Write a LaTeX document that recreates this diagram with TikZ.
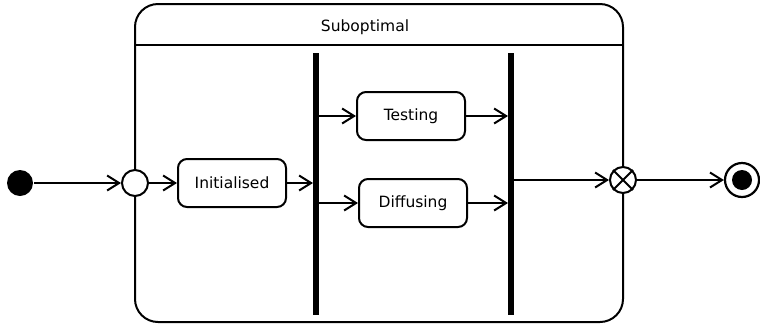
\documentclass[tikz,border=0pt]{standalone}
\usepackage{fontspec}
\setmainfont{DejaVu Sans}
\usetikzlibrary{arrows.meta}
\begin{document}
\begin{tikzpicture}[x=1pt,y=-1pt,
  line width=2pt,
  font=\fontsize{15.5}{18}\selectfont,
  state/.style={draw, rounded corners=9pt, minimum width=108pt, minimum height=48pt, inner sep=0pt},
  bar/.style={fill=black, minimum width=6pt, minimum height=262pt, inner sep=0pt, outer sep=0pt},
  flow/.style={-{Straight Barb[length=12pt,width=15pt]}},
  pseudo/.style={circle, draw, fill=white, minimum size=26pt, inner sep=0pt},
]
\useasboundingbox (0,0) rectangle (760,325);
% composite state with its header
\draw[rounded corners=23pt] (135,4) rectangle (623,322);
\draw (135,45) -- (623,45);
\node (title) at (365,27) {Suboptimal};
% states and pseudostates
\node[circle, fill=black, minimum size=26pt, inner sep=0pt] (start) at (20,183) {};
\node[pseudo] (entry) at (135,183) {};
\node[state] (init) at (232,183) {Initialised};
\node[bar] (fork) at (316,184) {};
\node[state] (test) at (411,116) {Testing};
\node[state] (diff) at (413,203) {Diffusing};
\node[bar] (join) at (511,184) {};
\node[pseudo] (exit) at (623,180) {};
\draw (exit.north west) -- (exit.south east) (exit.north east) -- (exit.south west);
\node[circle, draw, minimum size=34pt, inner sep=0pt, line width=2.2pt] (end) at (742,180) {};
\node[circle, fill=black, minimum size=20pt, inner sep=0pt] (endcore) at (end) {};
% transitions
\draw[flow] (start) -- (entry);
\draw[flow] (entry) -- (init);
\draw[flow] (init) -- (fork.west |- init);
\draw[flow] (fork.east |- test) -- (test);
\draw[flow] (fork.east |- diff) -- (diff);
\draw[flow] (test) -- (join.west |- test);
\draw[flow] (diff) -- (join.west |- diff);
\draw[flow] (join.east |- exit) -- (exit);
\draw[flow] (exit) -- (end);
\end{tikzpicture}
\end{document}
